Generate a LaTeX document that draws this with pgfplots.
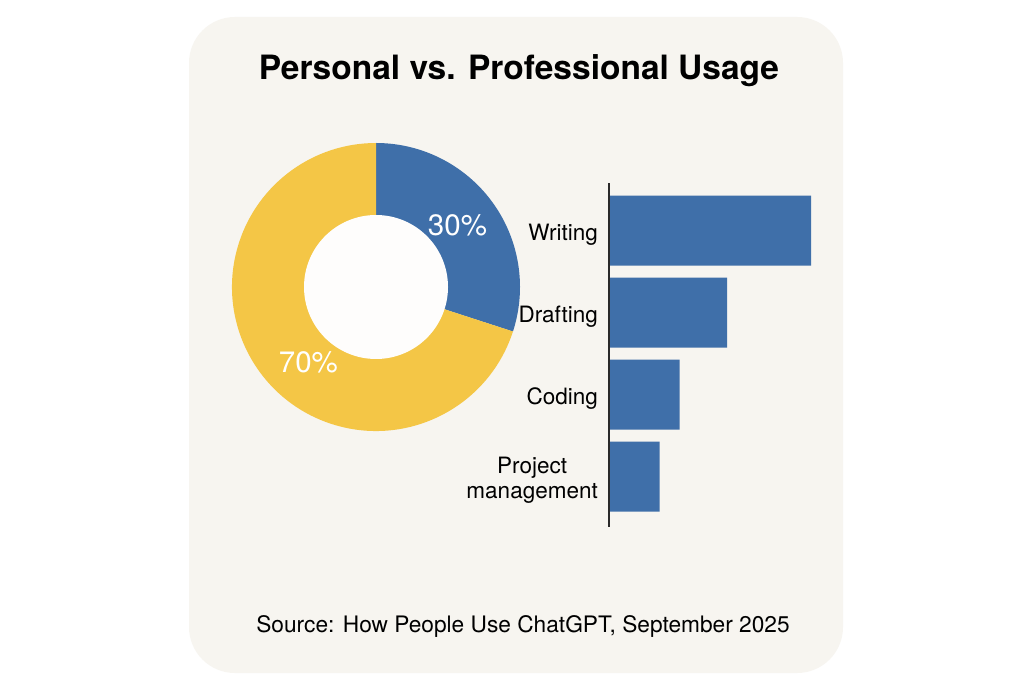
\documentclass[border=0pt]{standalone}
\usepackage{pgfplots}
\pgfplotsset{compat=1.18}
\usepackage{pgfplotstable}
\usepackage{fontspec}
\setmainfont{TeX Gyre Heros}

\definecolor{cardbg}{HTML}{F7F5F0}
\definecolor{holebg}{HTML}{FEFDFC}
\definecolor{profblue}{HTML}{3F6FA9}
\definecolor{persyellow}{HTML}{F4C646}
\definecolor{axisgray}{HTML}{2A2A2A}

% share of usage (percent)
\pgfplotstableread{
share   kind
30      Professional
70      Personal
}\usagetable

% professional tasks (relative volume)
\pgfplotstableread{
idx share
0   40
1   23.4
2   14
3   10
}\tasktable

\begin{document}
\begin{tikzpicture}
\useasboundingbox (0,0) rectangle (1024pt,683pt);
\fill[white] (0,0) rectangle (1024pt,683pt);
% card
\fill[cardbg, rounded corners=46pt] (189pt,10pt) rectangle (843pt,666pt);

\node[font=\fontsize{33.5}{38}\selectfont\bfseries, anchor=base] at (519pt,603pt)
  {Personal vs. Professional Usage};
\node[font=\fontsize{22.7}{26}\selectfont, anchor=base] at (523pt,51pt)
  {Source: How People Use ChatGPT, September 2025};

\pgfplotstablegetelem{0}{share}\of\usagetable
\let\profshare\pgfplotsretval
\pgfplotstablegetelem{1}{share}\of\usagetable
\let\persshare\pgfplotsretval
\pgfmathsetmacro\splitangle{90-3.6*\profshare}

% donut
\begin{axis}[
  at={(376pt,396pt)}, anchor=center,
  x=1pt, y=1pt,
  xmin=-150, xmax=150, ymin=-150, ymax=150,
  hide axis, clip=false,
]
\fill[profblue] (axis cs:0,0) -- ++(90:144pt)
  arc[start angle=90, end angle=\splitangle, radius=144pt] -- cycle;
\fill[persyellow] (axis cs:0,0) -- ++(\splitangle:144pt)
  arc[start angle=\splitangle, end angle=-270, radius=144pt] -- cycle;
\fill[holebg] (axis cs:0,0) circle[radius=72pt];
\path (axis cs:0,0) ++(37:102pt)
  node[text=white, font=\fontsize{29.5}{32}\selectfont] {\profshare\%};
\path (axis cs:0,0) ++(228:101pt)
  node[text=white, font=\fontsize{29.5}{32}\selectfont] {\persshare\%};
\end{axis}

% task bars
\begin{axis}[
  at={(609pt,500pt)}, anchor=north west,
  x=5.05pt, y=82pt, y dir=reverse,
  xmin=0, xmax=42, ymin=-0.58, ymax=3.61,
  xbar, bar width=70pt,
  axis x line=none, axis y line*=left,
  y axis line style={line width=2.5pt, draw=axisgray},
  ytick={0,1,2,3},
  yticklabels={Writing, Drafting, Coding, {Project\\management}},
  major tick length=0pt,
  yticklabel style={font=\fontsize{22.5}{25}\selectfont, align=center,
    inner sep=0pt, xshift=-11pt, yshift=-4pt},
  clip=false,
]
\addplot[fill=profblue, draw=none] table[x=share, y=idx] {\tasktable};
% baseline of the bars
\draw[line width=2.5pt, axisgray] (axis cs:0,-0.58) -- (axis cs:0,3.61);
\end{axis}
\end{tikzpicture}
\end{document}
